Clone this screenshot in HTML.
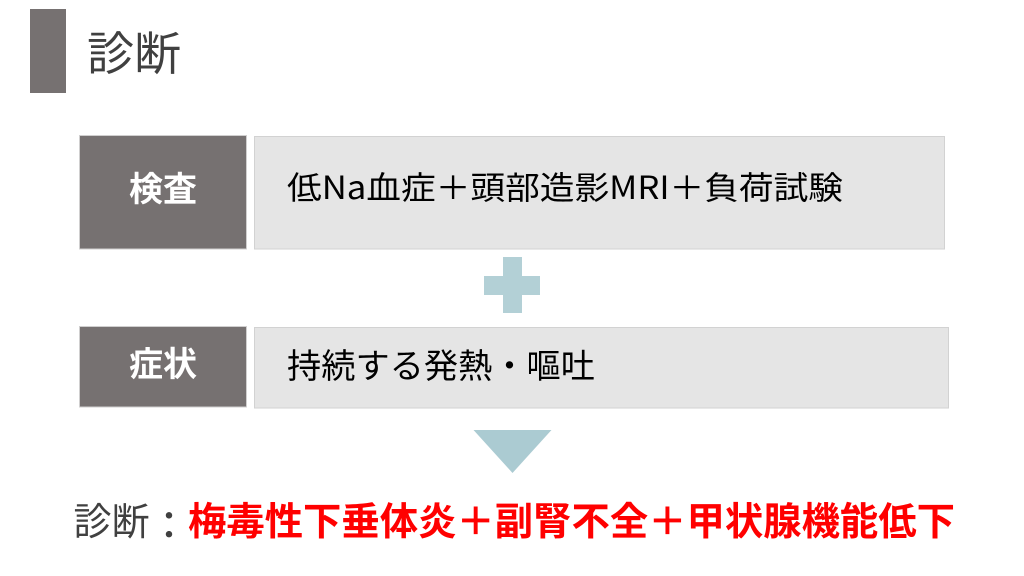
<!DOCTYPE html>
<html lang="ja"><head><meta charset="utf-8">
<style>
html,body{margin:0;padding:0;background:#fff}
body{width:1024px;height:576px;overflow:hidden}
svg{display:block}
text{font-family:"Liberation Sans","Noto Sans CJK JP",sans-serif}
.j{font-family:"Noto Sans CJK JP",sans-serif}
</style></head><body>
<svg width="1024" height="576" viewBox="0 0 1024 576" xmlns="http://www.w3.org/2000/svg">
<rect width="1024" height="576" fill="#fff"/>
<rect x="30" y="9" width="36" height="84" fill="#767171"/>
<text class="j" x="87" y="70" font-size="46" font-weight="400" fill="#404040" textLength="94" lengthAdjust="spacingAndGlyphs">診断</text>
<rect x="79.5" y="135.500" width="167" height="113.500" fill="#767171" stroke="#d0cfcf"/>
<text class="j" x="129" y="201" font-size="34" font-weight="700" fill="#fff" textLength="68" lengthAdjust="spacingAndGlyphs">検査</text>
<rect x="254.5" y="136.500" width="690" height="112.500" fill="#e5e5e5" stroke="#d2d2d2"/>
<text class="j" x="287" y="199" font-size="32" font-weight="400" fill="#000" textLength="556" lengthAdjust="spacingAndGlyphs">低Na血症＋頭部造影MRI＋負荷試験</text>
<path d="M503 257h19v19h18v19h-18v18h-19v-18h-19v-19h19z" fill="#b3d0d6"/>
<rect x="79.5" y="326.500" width="167" height="80.500" fill="#767171" stroke="#d0cfcf"/>
<text class="j" x="129" y="376" font-size="34" font-weight="700" fill="#fff" textLength="68" lengthAdjust="spacingAndGlyphs">症状</text>
<rect x="254.5" y="327.500" width="694" height="80.500" fill="#e5e5e5" stroke="#d2d2d2"/>
<text class="j" x="287" y="378" font-size="34" font-weight="400" fill="#000" textLength="308" lengthAdjust="spacingAndGlyphs">持続する発熱・嘔吐</text>
<path d="M473.500 430H551.500L512.500 473z" fill="#abcbd2"/>
<text class="j" x="73.500" y="535" font-size="38" font-weight="400" fill="#404040" textLength="76" lengthAdjust="spacingAndGlyphs">診断</text>
<text class="j" x="150" y="539" font-size="38" font-weight="500" fill="#404040">：</text>
<text class="j" x="188" y="535" font-size="38.400" font-weight="700" fill="#ff0000" textLength="767" lengthAdjust="spacingAndGlyphs">梅毒性下垂体炎＋副腎不全＋甲状腺機能低下</text>
</svg>
</body></html>
